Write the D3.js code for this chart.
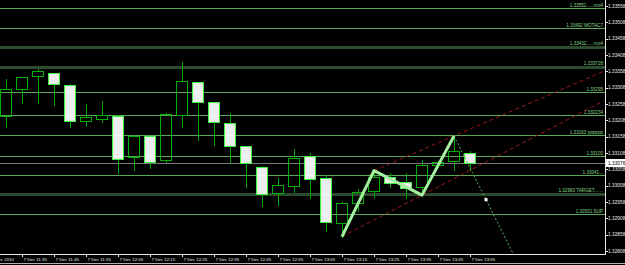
<!DOCTYPE html>
<html>
<head>
<meta charset="utf-8">
<script src="https://cdnjs.cloudflare.com/ajax/libs/d3/7.8.5/d3.min.js"></script>
<style>
  html, body { margin: 0; padding: 0; background: #000; }
  svg { display: block; }
  text { font-family: "Liberation Sans", Arial, sans-serif; }
</style>
</head>
<body>
<div id="chart"></div>
<script>
// 5 minute candles, 7 Dec 2010
const times = ['11:30', '11:35', '11:40', '11:45', '11:50', '11:55', '12:00', '12:05', '12:10', '12:15',
               '12:20', '12:25', '12:30', '12:35', '12:40', '12:45', '12:50', '12:55', '13:00', '13:05',
               '13:10', '13:15', '13:20', '13:25', '13:30', '13:35', '13:40', '13:45', '13:50', '13:55'];
const opens  = [1.33222, 1.33305, 1.33343, 1.33353, 1.33315, 1.33205, 1.33213, 1.33220, 1.33096, 1.33159,
                1.33086, 1.33223, 1.33324, 1.33265, 1.33199, 1.33129, 1.33064, 1.32985, 1.33006, 1.33099,
                1.33032, 1.32895, 1.32956, 1.32993, 1.33035, 1.33018, 1.33004, 1.33070, 1.33084, 1.33108];
const highs  = [1.33338, 1.33340, 1.33367, 1.33356, 1.33321, 1.33262, 1.33271, 1.33227, 1.33166, 1.33163,
                1.33234, 1.33390, 1.33326, 1.33266, 1.33233, 1.33133, 1.33071, 1.33035, 1.33122, 1.33111,
                1.33044, 1.32961, 1.33000, 1.33054, 1.33049, 1.33049, 1.33089, 1.33087, 1.33160, 1.33117];
const lows   = [1.33188, 1.33261, 1.33262, 1.33256, 1.33187, 1.33191, 1.33203, 1.33048, 1.33056, 1.33061,
                1.33080, 1.33189, 1.33148, 1.33133, 1.33076, 1.33005, 1.32947, 1.32949, 1.32990, 1.32971,
                1.32869, 1.32852, 1.32931, 1.32972, 1.33005, 1.32969, 1.32979, 1.33066, 1.33056, 1.33056];
const closes = [1.33305, 1.33340, 1.33358, 1.33318, 1.33206, 1.33218, 1.33223, 1.33090, 1.33159, 1.33079,
                1.33227, 1.33328, 1.33265, 1.33203, 1.33129, 1.33077, 1.32982, 1.33009, 1.33093, 1.33029,
                1.32896, 1.32956, 1.32988, 1.33035, 1.33015, 1.33000, 1.33071, 1.33080, 1.33113, 1.33076];

// time axis: candle index of each label and its text
const timeTickIndex = [-1, 1, 3, 5, 7, 9, 11, 13, 15, 17, 19, 21, 23, 25, 27, 29];
const timeTickLabels = ['7 Dec 2010', '7 Dec 11:35', '7 Dec 11:45', '7 Dec 11:55', '7 Dec 12:05', '7 Dec 12:15',
                        '7 Dec 12:25', '7 Dec 12:35', '7 Dec 12:45', '7 Dec 12:55', '7 Dec 13:05', '7 Dec 13:15',
                        '7 Dec 13:25', '7 Dec 13:35', '7 Dec 13:45', '7 Dec 13:55'];

// price axis
const priceTicks = [1.33558, 1.33508, 1.33458, 1.33408, 1.33358, 1.33308, 1.33258, 1.33208,
                    1.33158, 1.33108, 1.33058, 1.33008, 1.32958, 1.32908, 1.32858, 1.32808];

// horizontal levels drawn on the chart
const levelPrices = [1.33552, 1.33492, 1.33432, 1.33372, 1.33295, 1.33223, 1.33163, 1.33100, 1.33041, 1.32983, 1.32921];
const levelLabels = ['1.33552......mo4', '1.33492  MOTAC7', '1.33432......mo4', '1.333728', '1.33295',
                     '1.332234', '1.33163  pppppp', '1.33100', '1.33041...', '1.32983  TARGET.......', '1.32921  SUP'];
const levelKinds  = ['line', 'line', 'zone', 'zone', 'line', 'line', 'line', 'line', 'line', 'zone', 'line'];

// channel anchors (candle index), zigzag swings, projected leg
const channelHighs = [23, 28];
const channelLows = [21, 26];
const zigzag = [{ i: 21, p: 1.32852 }, { i: 23, p: 1.33054 }, { i: 26, p: 1.32979 }, { i: 28, p: 1.33160 }];
const projection = [{ i: 28, p: 1.33160 }, { i: 31, p: 1.32868 }];
const projectionMark = 30;

const width = 625;
const height = 265;
const plotRight = 605;
const plotBottom = 254;

const svg = d3.select('#chart')
  .append('svg')
  .attr('width', width)
  .attr('height', height)
  .style('background', '#000');

svg.append('defs').append('clipPath')
  .attr('id', 'plot-clip')
  .append('rect')
  .attr('x', 0).attr('y', 0)
  .attr('width', plotRight).attr('height', plotBottom);

const x = d3.scaleLinear().domain([-0.375, 37.375]).range([0, 604]);
const y = d3.scaleLinear().domain([1.327988, 1.335764]).range([plotBottom, 0]);
const py = p => Math.round(y(p)) + 0.5;

const plot = svg.append('g').attr('clip-path', 'url(#plot-clip)');

// levels
const levels = levelPrices.map((p, k) => ({ p, label: levelLabels[k], kind: levelKinds[k] }));

plot.selectAll('.level')
  .data(levels)
  .enter().append('line')
  .attr('class', 'level')
  .attr('x1', 0).attr('x2', plotRight)
  .attr('y1', d => py(d.p)).attr('y2', d => py(d.p))
  .attr('stroke', d => d.kind === 'zone' ? '#2c4a2c' : '#5aaa5a')
  .attr('stroke-width', d => d.kind === 'zone' ? 3 : 1)
  .attr('shape-rendering', 'crispEdges');

// current price line
const last = closes[closes.length - 1];
plot.append('line')
  .attr('x1', 0).attr('x2', plotRight)
  .attr('y1', py(last)).attr('y2', py(last))
  .attr('stroke', '#7a7a7a')
  .attr('shape-rendering', 'crispEdges');

// candles
const candles = times.map((t, i) => ({ i, t, o: opens[i], h: highs[i], l: lows[i], c: closes[i] }));

const cg = plot.selectAll('.candle')
  .data(candles)
  .enter().append('g')
  .attr('class', 'candle');

cg.append('line')
  .attr('x1', d => x(d.i) + 0.5).attr('x2', d => x(d.i) + 0.5)
  .attr('y1', d => py(d.h)).attr('y2', d => py(Math.max(d.o, d.c)))
  .attr('stroke', '#00a800')
  .attr('shape-rendering', 'crispEdges');

cg.append('line')
  .attr('x1', d => x(d.i) + 0.5).attr('x2', d => x(d.i) + 0.5)
  .attr('y1', d => py(Math.min(d.o, d.c))).attr('y2', d => py(d.l))
  .attr('stroke', '#00a800')
  .attr('shape-rendering', 'crispEdges');

cg.append('rect')
  .attr('x', d => x(d.i) - 5.5)
  .attr('width', 11)
  .attr('y', d => py(Math.max(d.o, d.c)))
  .attr('height', d => Math.max(1, py(Math.min(d.o, d.c)) - py(Math.max(d.o, d.c))))
  .attr('fill', d => d.c >= d.o ? 'none' : '#ffffff')
  .attr('fill-opacity', 0.93)
  .attr('stroke', d => d.c >= d.o ? '#00b000' : '#3cf03c')
  .attr('shape-rendering', 'crispEdges');

// level labels
plot.selectAll('.level-label')
  .data(levels)
  .enter().append('text')
  .attr('class', 'level-label')
  .attr('x', 603)
  .attr('y', d => py(d.p) - (d.kind === 'zone' ? 2.5 : 1.5))
  .attr('text-anchor', 'end')
  .attr('font-size', 4.6)
  .attr('fill', '#86d486')
  .text(d => d.label);

// channel lines, extended to the right edge
const xEnd = x.domain()[1];
function ray(a, b) {
  const slope = (b.p - a.p) / (b.i - a.i);
  return [a, { i: xEnd, p: a.p + slope * (xEnd - a.i) }];
}
const line = d3.line().x(d => x(d.i)).y(d => y(d.p));

const channels = [
  ray({ i: channelHighs[0], p: highs[channelHighs[0]] }, { i: channelHighs[1], p: highs[channelHighs[1]] }),
  ray({ i: channelLows[0], p: lows[channelLows[0]] }, { i: channelLows[1], p: lows[channelLows[1]] })
];

plot.selectAll('.channel')
  .data(channels)
  .enter().append('path')
  .attr('class', 'channel')
  .attr('d', line)
  .attr('fill', 'none')
  .attr('stroke', '#9a1a1a')
  .attr('stroke-width', 1)
  .attr('stroke-dasharray', '4,3');

// projected leg
const proj = ray(projection[0], projection[1]);
plot.append('path')
  .attr('d', line(proj))
  .attr('fill', 'none')
  .attr('stroke', '#55b055')
  .attr('stroke-width', 1)
  .attr('stroke-dasharray', '2,2');

const pSlope = (projection[1].p - projection[0].p) / (projection[1].i - projection[0].i);
const markP = projection[0].p + pSlope * (projectionMark - projection[0].i);
plot.append('rect')
  .attr('x', x(projectionMark) - 1.5)
  .attr('y', y(markP) - 1.5)
  .attr('width', 3).attr('height', 3)
  .attr('fill', '#ffffff');

// zigzag
plot.append('path')
  .attr('d', line(zigzag))
  .attr('fill', 'none')
  .attr('stroke', '#a4f0a0')
  .attr('stroke-width', 3)
  .attr('stroke-linejoin', 'round');

// time axis
svg.append('line')
  .attr('x1', 0).attr('x2', plotRight + 0.5)
  .attr('y1', plotBottom + 0.5).attr('y2', plotBottom + 0.5)
  .attr('stroke', '#e8e8e8')
  .attr('shape-rendering', 'crispEdges');

const tt = svg.selectAll('.tt')
  .data(timeTickIndex.map((i, k) => ({ i, label: timeTickLabels[k] })))
  .enter().append('g')
  .attr('class', 'tt');

tt.append('line')
  .attr('x1', d => x(d.i) + 0.5).attr('x2', d => x(d.i) + 0.5)
  .attr('y1', plotBottom).attr('y2', plotBottom + 3)
  .attr('stroke', '#e8e8e8')
  .attr('shape-rendering', 'crispEdges');

tt.append('text')
  .attr('x', d => x(d.i) + 1.5)
  .attr('y', 260.5)
  .attr('font-size', 4.4)
  .attr('fill', '#e8e8e8')
  .text(d => d.label);

// price axis
svg.append('line')
  .attr('x1', plotRight + 0.5).attr('x2', plotRight + 0.5)
  .attr('y1', 0).attr('y2', plotBottom + 1)
  .attr('stroke', '#e8e8e8')
  .attr('shape-rendering', 'crispEdges');

const pt = svg.selectAll('.pt')
  .data(priceTicks)
  .enter().append('g')
  .attr('class', 'pt');

pt.append('line')
  .attr('x1', plotRight).attr('x2', plotRight + 3)
  .attr('y1', d => py(d)).attr('y2', d => py(d))
  .attr('stroke', '#e8e8e8')
  .attr('shape-rendering', 'crispEdges');

pt.append('text')
  .attr('x', 608)
  .attr('y', d => y(d))
  .attr('dy', '0.35em')
  .attr('font-size', 4.8)
  .attr('fill', '#e8e8e8')
  .text(d => d3.format('.5f')(d));

// current price box
svg.append('rect')
  .attr('x', plotRight + 1).attr('y', py(last) - 4.5)
  .attr('width', width - plotRight - 1).attr('height', 8)
  .attr('fill', '#ffffff');
svg.append('text')
  .attr('x', 608)
  .attr('y', y(last))
  .attr('dy', '0.35em')
  .attr('font-size', 4.8)
  .attr('fill', '#000')
  .text(d3.format('.5f')(last));

// window frame below the axis
svg.append('line')
  .attr('x1', 0).attr('x2', width)
  .attr('y1', 263.5).attr('y2', 263.5)
  .attr('stroke', '#b0b0b0')
  .attr('shape-rendering', 'crispEdges');
</script>
</body>
</html>
